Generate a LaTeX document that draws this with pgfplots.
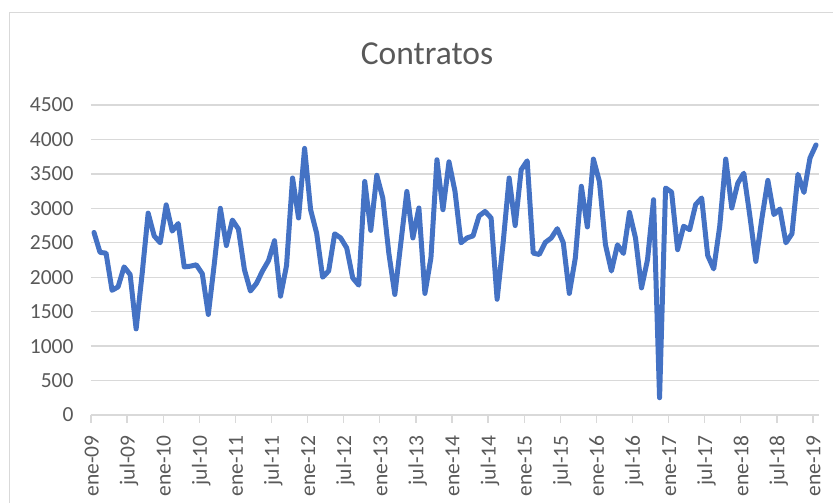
\documentclass[border=0pt]{standalone}
\usepackage{fontspec}
\setmainfont{Carlito}
\usepackage{pgfplots}
\usepackage{pgfplotstable}
\pgfplotsset{compat=1.18}
\definecolor{txt}{HTML}{595959}
\definecolor{gridc}{HTML}{D9D9D9}
\definecolor{ln}{HTML}{4472C4}
\definecolor{axc}{HTML}{D9D9D9}
\pgfplotstableread{
m v
0 2650
1 2360
2 2350
3 1810
4 1860
5 2150
6 2040
7 1250
8 2050
9 2930
10 2600
11 2500
12 3050
13 2670
14 2780
15 2150
16 2160
17 2180
18 2050
19 1460
20 2200
21 3000
22 2460
23 2830
24 2700
25 2110
26 1800
27 1910
28 2090
29 2240
30 2530
31 1725
32 2170
33 3440
34 2860
35 3870
36 2980
37 2640
38 2000
39 2090
40 2630
41 2570
42 2425
43 1990
44 1885
45 3390
46 2680
47 3480
48 3150
49 2350
50 1750
51 2500
52 3245
53 2570
54 3005
55 1765
56 2280
57 3705
58 2980
59 3675
60 3245
61 2500
62 2570
63 2600
64 2890
65 2955
66 2860
67 1680
68 2500
69 3440
70 2750
71 3560
72 3690
73 2350
74 2330
75 2505
76 2570
77 2705
78 2500
79 1765
80 2280
81 3320
82 2730
83 3715
84 3390
85 2475
86 2090
87 2470
88 2345
89 2940
90 2570
91 1845
92 2255
93 3125
94 250
95 3295
96 3235
97 2400
98 2740
99 2690
100 3055
101 3150
102 2315
103 2120
104 2740
105 3715
106 3005
107 3365
108 3510
109 2895
110 2230
111 2850
112 3405
113 2910
114 2990
115 2500
116 2630
117 3495
118 3230
119 3730
120 3920
}\datatable
\begin{document}
\begin{tikzpicture}[x=1pt,y=1pt]
\path[use as bounding box] (0,0) rectangle (833,503);
\draw[gridc, line width=1pt] (9,-5) -- (9,490) -- (840,490);
\node[anchor=base, text=txt, font=\fontsize{33.5}{40}\selectfont, inner sep=0pt] at (427,438) {Contratos};
\begin{axis}[
  at={(91pt,88pt)}, anchor=south west, scale only axis,
  width=728pt, height=310pt,
  xmin=-0.5, xmax=120.5, ymin=0, ymax=4500,
  axis x line*=bottom, axis y line*=left,
  y axis line style={draw=none},
  x axis line style={axc, line width=1.3pt},
  ytick={0,500,1000,1500,2000,2500,3000,3500,4000,4500},
  yticklabels={0,500,1000,1500,2000,2500,3000,3500,4000,4500},
  xtick={-0.5,5.5,11.5,17.5,23.5,29.5,35.5,41.5,47.5,53.5,59.5,65.5,71.5,77.5,83.5,89.5,95.5,101.5,107.5,113.5,119.5},
  xticklabels={ene-09,jul-09,ene-10,jul-10,ene-11,jul-11,ene-12,jul-12,ene-13,jul-13,ene-14,jul-14,ene-15,jul-15,ene-16,jul-16,ene-17,jul-17,ene-18,jul-18,ene-19},
  ymajorgrids, grid style={gridc, line width=1.3pt},
  ytick style={draw=none},
  xtick style={axc, line width=1.3pt},
  xtick align=outside, major tick length=8pt,
  tick label style={font=\fontsize{21.5}{26}\selectfont, text=txt},
  yticklabel style={xshift=-14pt},
  xticklabel style={xshift=5pt, yshift=-9pt, rotate=90, anchor=east, text height=0.7em, text depth=0.2em},
  clip=false,
]
\addplot[ln, line width=5pt, line join=round, line cap=round] table[x=m, y=v] {\datatable};
\end{axis}
\end{tikzpicture}
\end{document}
